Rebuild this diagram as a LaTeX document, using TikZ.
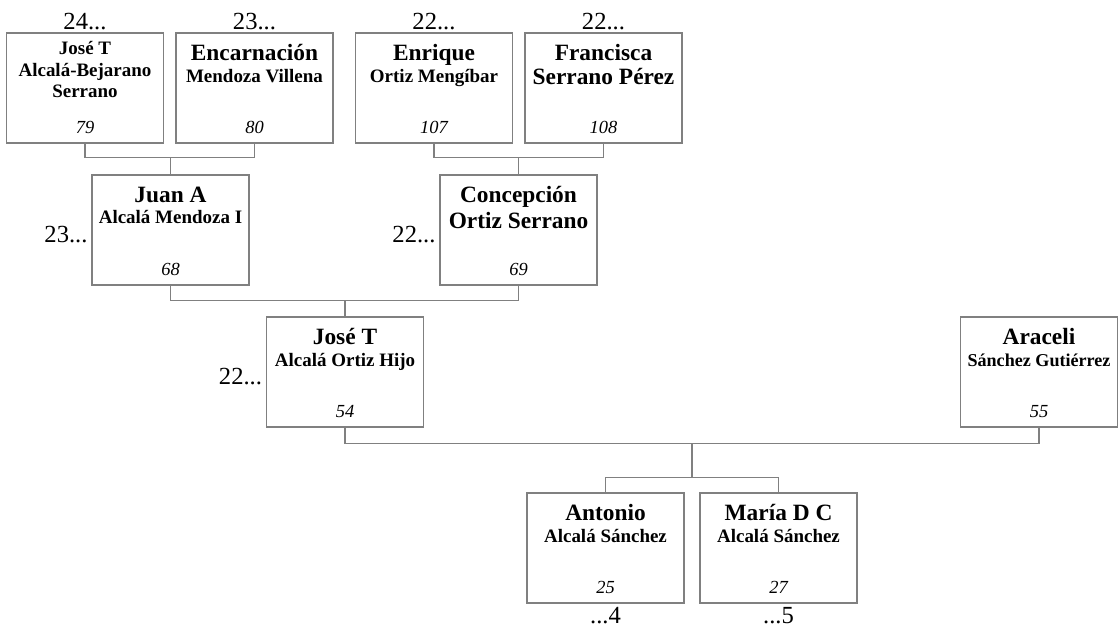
\documentclass[tikz,border=0pt]{standalone}
\usepackage{fontspec}
\setmainfont{Liberation Serif}
\usetikzlibrary{calc,positioning}
\definecolor{linegray}{RGB}{128,128,128}
\newcommand{\bigname}[1]{{\fontsize{13.3}{14}\selectfont #1}}

\begin{document}
\begin{tikzpicture}[x=0.02cm,y=-0.02cm,
    box/.style={draw=linegray,line width=0.7pt,minimum width=3.14cm,minimum height=2.2cm,inner sep=0pt},
    nametxt/.style={align=center,font=\bfseries\fontsize{10.8}{12}\selectfont,inner sep=0pt},
    numtxt/.style={font=\itshape\fontsize{10.5}{12}\selectfont,inner sep=0pt},
    gentxt/.style={font=\fontsize{14}{16}\selectfont,inner sep=0pt},
    conn/.style={draw=linegray,line width=0.7pt}]
    \useasboundingbox (0,0) rectangle (1119,630);

    % boxes
    \node[box] (b79) at (85,88) {};
    \node[box] (b80) at (254.5,88) {};
    \node[box] (b107) at (434,88) {};
    \node[box] (b108) at (603.5,88) {};
    \node[box] (b68) at (170.5,230) {};
    \node[box] (b69) at (518.5,230) {};
    \node[box] (b54) at (345,372) {};
    \node[box] (b55) at (1039,372) {};
    \node[box] (b25) at (605.5,548) {};
    \node[box] (b27) at (778.5,548) {};

    % names
    \node[nametxt,below=0.18cm of b79.north] (n79) {José T\\Alcalá-Bejarano\\Serrano};
    \node[nametxt,below=0.24cm of b80.north] (n80) {\bigname{Encarnación}\\Mendoza Villena};
    \node[nametxt,below=0.24cm of b107.north] (n107) {\bigname{Enrique}\\Ortiz Mengíbar};
    \node[nametxt,below=0.24cm of b108.north] (n108) {\bigname{Francisca}\\[1.5pt]\bigname{Serrano Pérez}};
    \node[nametxt,below=0.24cm of b68.north] (n68) {\bigname{Juan A}\\Alcalá Mendoza I};
    \node[nametxt,below=0.24cm of b69.north] (n69) {\bigname{Concepción}\\[1.5pt]\bigname{Ortiz Serrano}};
    \node[nametxt,below=0.24cm of b54.north] (n54) {\bigname{José T}\\Alcalá Ortiz Hijo};
    \node[nametxt,below=0.24cm of b55.north] (n55) {\bigname{Araceli}\\{\fontsize{10.3}{12}\selectfont Sánchez Gutiérrez}};
    \node[nametxt,below=0.24cm of b25.north] (n25) {\bigname{Antonio}\\Alcalá Sánchez};
    \node[nametxt,below=0.24cm of b27.north] (n27) {\bigname{María D C}\\Alcalá Sánchez};

    % numbers
    \node[numtxt,above=0.2cm of b79.south] (r79) {79};
    \node[numtxt,above=0.2cm of b80.south] (r80) {80};
    \node[numtxt,above=0.2cm of b107.south] (r107) {107};
    \node[numtxt,above=0.2cm of b108.south] (r108) {108};
    \node[numtxt,above=0.2cm of b68.south] (r68) {68};
    \node[numtxt,above=0.2cm of b69.south] (r69) {69};
    \node[numtxt,above=0.2cm of b54.south] (r54) {54};
    \node[numtxt,above=0.2cm of b55.south] (r55) {55};
    \node[numtxt,above=0.2cm of b25.south] (r25) {25};
    \node[numtxt,above=0.2cm of b27.south] (r27) {27};

    % generations
    \node[gentxt,above=1pt of b79.north] (g79) {24...};
    \node[gentxt,above=1pt of b80.north] (g80) {23...};
    \node[gentxt,above=1pt of b107.north] (g107) {22...};
    \node[gentxt,above=1pt of b108.north] (g108) {22...};
    \node[gentxt,left=2pt of b68.west,yshift=-0.1cm] (g68) {23...};
    \node[gentxt,left=2pt of b69.west,yshift=-0.1cm] (g69) {22...};
    \node[gentxt,left=2pt of b54.west,yshift=-0.1cm] (g54) {22...};
    \node[gentxt,below=2pt of b25.south] (g25) {...4};
    \node[gentxt,below=2pt of b27.south] (g27) {...5};

    % connectors
    \coordinate (j68) at ($(b68.north)+(0,-17)$);
    \draw[conn] (b79.south) |- (j68) -| (b80.south);
    \draw[conn] (j68) -- (b68.north);
    \coordinate (j69) at ($(b69.north)+(0,-17)$);
    \draw[conn] (b107.south) |- (j69) -| (b108.south);
    \draw[conn] (j69) -- (b69.north);
    \coordinate (j54) at ($(b54.north)+(0,-16)$);
    \draw[conn] (b68.south) |- (j54) -| (b69.south);
    \draw[conn] (j54) -- (b54.north);
    \coordinate (jc) at ($(b54.south)!0.5!(b55.south)+(0,16)$);
    \draw[conn] (b54.south) |- (jc) -| (b55.south);
    \coordinate (kc) at ($(jc)+(0,34)$);
    \draw[conn] (jc) -- (kc);
    \draw[conn] (b25.north) |- (kc) -| (b27.north);
\end{tikzpicture}
\end{document}
